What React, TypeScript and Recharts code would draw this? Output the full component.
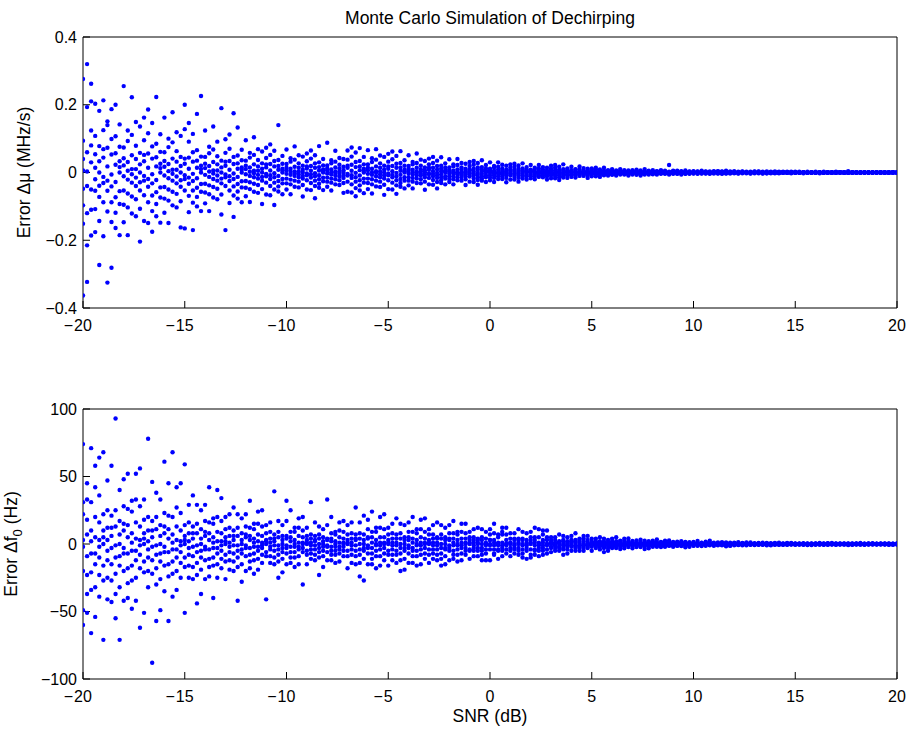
import { ScatterChart, Scatter, XAxis, YAxis } from "recharts";

// SNR grid of the Monte Carlo run (dB)
const snrDb = [
  -20, -19.8, -19.6, -19.4, -19.2, -19, -18.8, -18.6, -18.4, -18.2,
  -18, -17.8, -17.6, -17.4, -17.2, -17, -16.8, -16.6, -16.4, -16.2,
  -16, -15.8, -15.6, -15.4, -15.2, -15, -14.8, -14.6, -14.4, -14.2,
  -14, -13.8, -13.6, -13.4, -13.2, -13, -12.8, -12.6, -12.4, -12.2,
  -12, -11.8, -11.6, -11.4, -11.2, -11, -10.8, -10.6, -10.4, -10.2,
  -10, -9.8, -9.6, -9.4, -9.2, -9, -8.8, -8.6, -8.4, -8.2,
  -8, -7.8, -7.6, -7.4, -7.2, -7, -6.8, -6.6, -6.4, -6.2,
  -6, -5.8, -5.6, -5.4, -5.2, -5, -4.8, -4.6, -4.4, -4.2,
  -4, -3.8, -3.6, -3.4, -3.2, -3, -2.8, -2.6, -2.4, -2.2,
  -2, -1.8, -1.6, -1.4, -1.2, -1, -0.8, -0.6, -0.4, -0.2,
  0, 0.2, 0.4, 0.6, 0.8, 1, 1.2, 1.4, 1.6, 1.8,
  2, 2.2, 2.4, 2.6, 2.8, 3, 3.2, 3.4, 3.6, 3.8,
  4, 4.2, 4.4, 4.6, 4.8, 5, 5.2, 5.4, 5.6, 5.8,
  6, 6.2, 6.4, 6.6, 6.8, 7, 7.2, 7.4, 7.6, 7.8,
  8, 8.2, 8.4, 8.6, 8.8, 9, 9.2, 9.4, 9.6, 9.8,
  10, 10.2, 10.4, 10.6, 10.8, 11, 11.2, 11.4, 11.6, 11.8,
  12, 12.2, 12.4, 12.6, 12.8, 13, 13.2, 13.4, 13.6, 13.8,
  14, 14.2, 14.4, 14.6, 14.8, 15, 15.2, 15.4, 15.6, 15.8,
  16, 16.2, 16.4, 16.6, 16.8, 17, 17.2, 17.4, 17.6, 17.8,
  18, 18.2, 18.4, 18.6, 18.8, 19, 19.2, 19.4, 19.6, 19.8,
  20,
];

// chirp-rate error per trial, kHz/s (one row per SNR)
const muErrKHzPerS = [
  [276, 94, 40, 6, -48, -97, -151, -363], [320, 193, 60, 3, -40, -120, -215, -323],
  [262, 210, 124, 80, 30, -50, -186, -110], [108, 54, -20, -54, -108, -176, 203, 14],
  [182, 78, 0, -39, -143, -273, 33, -72], [125, 44, -13, -88, -188, 213, 69, -31],
  [73, 18, -54, -115, 140, 151, -24, -325], [187, 99, 53, -6, -41, -88, -146, -281],
  [107, 57, 23, -28, -73, -119, 200, -164], [142, 33, 0, -55, -93, -185, 76, 16],
  [255, 74, 21, -11, -53, -95, -147, 42], [124, 93, 31, -21, -62, -185, 5, -103],
  [222, 111, 51, 10, -30, -71, -121, -5], [79, 40, -15, -40, -79, -129, 149, 10],
  [136, 58, 0, -29, -107, -204, 24, -53], [95, 33, -10, -67, -143, 162, 52, -24],
  [56, 14, -42, -88, 186, 116, -19, -149], [146, 77, 41, -5, -32, -68, -114, -175],
  [85, 45, 18, -22, -58, -93, 223, -129], [113, 26, 0, -44, -74, -148, 61, 13],
  [162, 60, 17, -9, -43, -77, -119, 34], [100, 75, 25, -17, -50, -149, 4, -83],
  [178, 89, 41, 8, -24, -57, -97, -4], [63, 32, -12, -32, -63, -103, 119, 8],
  [108, 46, 0, -23, -85, -162, 19, -42], [200, 26, -8, -53, -165, 128, 41, -19],
  [44, 11, -33, -69, 146, 91, -15, -117], [114, 60, 32, -4, -25, -53, -89, -170],
  [66, 35, 14, -17, -45, -72, 173, -100], [226, 20, 0, -34, -57, -114, 47, 10],
  [124, 46, 13, -7, -33, -59, -91, 26], [76, 57, 19, -13, -38, -114, 3, -64],
  [136, 68, 31, 6, -19, -43, -74, -3], [48, 24, -9, -24, -48, -79, 91, 6],
  [190, 35, 0, -18, -65, -124, 15, -32], [58, 20, -6, -40, -170, 98, 32, -14],
  [34, 8, -25, -53, 112, 70, -11, -90], [175, 46, 25, -3, -19, -41, -68, -131],
  [50, 27, 11, -13, -34, -56, 133, -77], [67, 15, 0, -26, -44, -88, 36, 8],
  [95, 35, 10, -5, -25, -45, -70, 20], [58, 44, 15, -10, -29, -87, 2, -49],
  [104, 52, 24, 5, -14, -33, -57, -2], [37, 18, -7, -18, -37, -60, 69, 5],
  [62, 27, 0, -13, -49, -93, 11, -24], [43, 15, -4, -30, -65, 73, 24, -11],
  [25, 6, -19, -40, 83, 52, -8, -67], [64, 34, 18, -2, -14, -30, -50, -96],
  [37, 19, 8, -10, -25, -41, 140, -56], [49, 11, 0, -19, -32, -64, 26, 6],
  [68, 25, 7, -4, -18, -32, -50, 14], [42, 32, 11, -7, -21, -64, 2, -35],
  [77, 38, 17, 3, -10, -24, -42, -2], [27, 14, -5, -14, -27, -44, 51, 3],
  [47, 20, 0, -10, -37, -71, 8, -18], [33, 12, -3, -23, -50, 56, 18, -8],
  [19, 5, -15, -31, 65, 41, -6, -52], [51, 27, 14, -2, -11, -24, -40, -76],
  [30, 16, 6, -8, -20, -33, 78, -45], [40, 9, 0, -15, -26, -52, 21, 5],
  [88, 21, 6, -3, -15, -27, -42, 12], [36, 27, 9, -6, -18, -53, 1, -30],
  [64, 32, 15, 3, -9, -20, -35, -1], [23, 12, -4, -12, -23, -37, 43, 3],
  [40, 17, 0, -9, -31, -60, 7, -16], [38, 14, -4, -27, -57, 65, 20, -9],
  [23, 5, -16, -35, 74, 47, -8, -59], [59, 31, 16, -1, -14, -27, -46, -70],
  [34, 18, 7, -9, -23, -38, 72, -53], [46, 11, 0, -18, -30, -61, 24, 5],
  [66, 24, 7, -4, -18, -31, -49, 14], [42, 31, 11, -7, -20, -62, 1, -35],
  [69, 38, 18, 4, -11, -24, -41, -1], [27, 14, -5, -14, -27, -43, 50, 3],
  [46, 20, 0, -9, -36, -66, 8, -18], [32, 11, -3, -23, -49, 55, 18, -8],
  [19, 4, -14, -30, 62, 39, -7, -50], [49, 26, 14, -1, -11, -23, -38, -63],
  [28, 15, 5, -7, -19, -31, 63, -42], [36, 8, 0, -14, -24, -47, 20, 4],
  [51, 19, 5, -3, -14, -24, -38, 11], [31, 24, 8, -5, -16, -47, 1, -27],
  [56, 28, 14, 3, -8, -18, -31, -1], [20, 9, -4, -9, -20, -32, 38, 3],
  [34, 15, 0, -7, -27, -51, 7, -14], [24, 8, -3, -16, -35, 41, 14, -5],
  [14, 4, -11, -22, 46, 28, -4, -36], [35, 19, 9, -1, -8, -16, -28, -47],
  [20, 11, 4, -5, -14, -23, 45, -31], [27, 7, 0, -11, -18, -35, 15, 3],
  [39, 15, 4, -3, -11, -19, -28, 8], [24, 18, 5, -4, -12, -35, 1, -20],
  [40, 22, 9, 1, -5, -14, -23, -1], [15, 8, -3, -8, -15, -24, 28, 1],
  [26, 11, 0, -5, -20, -37, 4, -11], [19, 7, -1, -12, -27, 31, 9, -4],
  [11, 3, -8, -18, 34, 23, -4, -28], [28, 15, 8, -1, -7, -14, -22, -36],
  [16, 8, 4, -4, -11, -18, 36, -24], [22, 5, 0, -8, -14, -28, 12, 3],
  [30, 11, 3, -1, -8, -15, -23, 7], [19, 15, 5, -3, -9, -28, 1, -16],
  [30, 17, 8, 1, -4, -11, -19, -1], [12, 5, -3, -5, -12, -19, 23, 1],
  [20, 8, 0, -4, -16, -29, 4, -8], [15, 5, -1, -9, -21, 24, 8, -4],
  [8, 3, -7, -13, 26, 17, -3, -21], [21, 11, 5, 0, -4, -9, -16, -27],
  [12, 7, 3, -3, -8, -13, 27, -18], [16, 4, 0, -7, -11, -21, 9, 1],
  [22, 8, 3, -1, -7, -11, -17, 5], [14, 10, 4, -3, -7, -20, 0, -12],
  [22, 12, 5, 1, -4, -8, -13, 0], [9, 4, -1, -4, -9, -14, 16, 1],
  [14, 6, 0, -3, -12, -21, 3, -6], [12, 4, -1, -9, -17, 20, 6, -3],
  [7, 1, -6, -10, 22, 14, -3, -17], [17, 8, 4, 0, -4, -8, -14, -22],
  [10, 6, 1, -3, -7, -11, 24, -15], [12, 3, 0, -5, -8, -16, 7, 1],
  [17, 7, 1, -1, -5, -8, -13, 4], [10, 8, 3, -1, -5, -15, 0, -9],
  [18, 9, 4, 1, -3, -6, -10, 0], [6, 4, -1, -4, -6, -10, 13, 1],
  [11, 5, 0, -3, -9, -16, 3, -4], [8, 3, -1, -5, -11, 12, 4, -2],
  [4, 1, -4, -7, 14, 9, -1, -11], [9, 5, 3, 0, -2, -4, -7, -13],
  [5, 3, 1, -1, -4, -6, 14, -8], [7, 2, 0, -3, -4, -9, 4, 1],
  [10, 4, 1, -1, -3, -5, -7, 2], [6, 4, 1, -1, -3, -9, 0, -5],
  [10, 5, 2, 0, -1, -3, -6, 0], [4, 2, -1, -2, -4, -6, 7, 0],
  [6, 3, 0, -1, -5, -9, 1, -2], [4, 1, 0, -3, -6, 7, 2, -1],
  [2, 1, -2, -4, 8, 5, -1, -7], [6, 3, 2, 0, -1, -3, -5, -9],
  [4, 2, 1, -1, -2, -4, 10, -6], [5, 1, 0, -2, -3, -6, 3, 1],
  [7, 2, 1, 0, -2, -3, -5, 1], [4, 3, 1, -1, -2, -6, 0, -3],
  [7, 4, 2, 0, -1, -2, -4, 0], [2, 1, 0, -1, -2, -4, 5, 0],
  [22, 2, 0, -1, -3, -6, 1, -2], [3, 1, 0, -2, -4, 5, 2, -1],
  [2, 0, -1, -3, 5, 3, -1, -4], [4, 2, 1, 0, -1, -2, -3, -6],
  [2, 1, 0, -1, -2, -3, 6, -4], [3, 1, 0, -1, -2, -4, 2, 0],
  [4, 2, 0, 0, -1, -2, -3, 1], [3, 2, 1, 0, -1, -4, 0, -2],
  [5, 2, 1, 0, -1, -2, -3, 0], [2, 1, 0, -1, -2, -3, 3, 0],
  [3, 1, 0, -1, -2, -4, 1, -1], [2, 1, 0, -1, -3, 4, 1, 0],
  [1, 0, -1, -2, 4, 3, 0, -3], [3, 2, 1, 0, -1, -1, -2, -4],
  [2, 1, 0, 0, -1, -2, 5, -3], [3, 1, 0, -1, -1, -3, 1, 0],
  [4, 1, 0, 0, -1, -1, -2, 1], [2, 1, 0, 0, -1, -3, 0, -2],
  [3, 2, 1, 0, 0, -1, -2, 0], [1, 1, 0, 0, -1, -2, 2, 0],
  [2, 1, 0, 0, -2, -3, 0, -1], [2, 1, 0, -1, -2, 3, 1, 0],
  [1, 0, -1, -1, 3, 2, 0, -2], [2, 1, 1, 0, 0, -1, -2, -3],
  [1, 1, 0, 0, -1, -2, 3, -2], [2, 0, 0, -1, -1, -2, 1, 0],
  [3, 1, 0, 0, -1, -1, -2, 1], [2, 1, 0, 0, -1, -2, 0, -1],
  [2, 1, 1, 0, 0, -1, -1, 0], [1, 0, 0, 0, -1, -1, 2, 0],
  [2, 1, 0, 0, -1, -2, 0, -1], [1, 1, 0, -1, -1, 2, 0, 0],
  [1, 0, 0, -1, 2, 1, 0, -1], [1, 1, 0, 0, 0, -1, -1, -2],
  [1, 0, 0, 0, -1, -1, 2, -1], [1, 0, 0, -1, -1, -1, 1, 0],
  [2, 1, 0, 0, 0, -1, -1, 0], [1, 0, 0, 0, -1, -2, 0, -1],
  [2, 1, 0, 0, 0, -1, -1, 0], [1, 0, 0, 0, -1, -1, 1, 0],
  [1, 1, 0, 0, -1, -1, 0, -1], [1, 0, 0, -1, -1, 2, 0, 0],
  [1, 0, 0, 0, 1, 1, 0, -1], [1, 1, 0, 0, 0, -1, -1, -1],
  [4, 0, 0, 0, -1, -1, 1, -1], [1, 0, 0, -1, -1, 0, 1, 0],
  [1, 1, 0, 0, 0, -1, -1, 0], [1, 0, 0, 0, -1, -1, 0, -1],
  [1, 0, 0, 0, 0, -1, 1, 0], [0, 0, 0, 0, -1, -1, 1, 0],
  [1, 0, 0, 0, 0, -1, 0, -1], [1, 0, 0, -1, 0, 1, 0, 0],
  [0, 0, 0, -1, 1, 1, 0, -1], [1, 0, 0, 0, 0, -1, -1, 0],
  [0, 0, 0, 0, -1, 0, 1, -1], [1, 0, 0, -1, 0, 0, 1, 0],
  [1, 0, 0, 0, 0, -1, 0, -1],
];

// start-frequency error per trial, Hz (one row per SNR)
const f0ErrHz = [
  [74, 31, 22, 3, -2, -20, -49, -60], [33, 18, 7, -9, -23, -37, 45, -51],
  [71, 31, 10, -7, -21, -66, 2, -34], [20, 5, -15, -32, 58, 42, -7, -54],
  [64, 36, 16, 3, -10, -23, -39, -2], [68, 10, 0, -16, -27, -71, 22, 5],
  [25, 12, -5, -12, -25, -41, 47, 3], [58, 21, 6, -3, -15, -27, -43, 12],
  [93, 25, 13, -1, -10, -22, -37, -55], [40, 17, 0, -9, -32, -71, 7, -16],
  [28, 10, -3, -20, -42, 48, 15, -7], [26, 14, 5, -7, -18, -29, 52, -40],
  [32, 24, 8, -5, -16, -48, 1, -27], [16, 4, -12, -25, 52, 33, -5, -42],
  [56, 28, 13, 3, -8, -18, -62, -1], [33, 8, 0, -13, -21, -51, 18, 4],
  [20, 10, -4, -10, -20, -32, 78, 2], [46, 17, 5, -2, -12, -22, -88, 10],
  [38, 20, 11, -1, -8, -18, -30, -57], [33, 14, 0, -7, -26, -49, 6, -13],
  [23, 8, -2, -16, -35, 61, 13, -6], [21, 11, 4, -6, -15, -24, 45, -57],
  [68, 20, 7, -4, -13, -39, 1, -22], [13, 3, -10, -20, 42, 27, -4, -34],
  [45, 23, 10, 2, -6, -14, -25, -1], [59, 6, 0, -10, -17, -51, 14, 3],
  [16, 8, -3, -8, -16, -25, 29, 2], [36, 13, 4, -2, -9, -17, -26, 8],
  [29, 15, 8, -1, -6, -14, -23, -44], [25, 11, 0, -5, -19, -37, 4, -10],
  [17, 6, -2, -12, -26, 29, 9, -4], [16, 8, 3, -4, -11, -17, 42, -24],
  [19, 15, 5, -3, -10, -40, 1, -16], [9, 2, -7, -15, 40, 20, -3, -25],
  [34, 17, 8, 2, -5, -11, -18, -1], [20, 5, 0, -8, -13, -26, 11, 2],
  [12, 6, -2, -6, -12, -19, 22, 1], [27, 10, 3, -1, -7, -13, -20, 6],
  [22, 12, 6, -1, -5, -10, -17, -42], [19, 8, 0, -4, -15, -28, 3, -7],
  [13, 5, -1, -9, -20, 22, 7, -3], [12, 6, 3, -3, -8, -13, 32, -18],
  [15, 11, 4, -2, -7, -22, 1, -12], [7, 2, -5, -11, 24, 15, -2, -19],
  [25, 13, 6, 1, -3, -8, -14, -1], [14, 3, 0, -6, -9, -41, 8, 2],
  [9, 4, -2, -4, -9, -14, 16, 1], [39, 7, 2, -1, -5, -10, -15, 4],
  [17, 9, 5, -1, -4, -8, -13, -25], [14, 6, 0, -3, -11, -21, 3, -6],
  [32, 4, -1, -7, -15, 17, 6, -3], [9, 5, 2, -2, -6, -10, 25, -14],
  [12, 9, 3, -2, -6, -17, 0, -10], [6, 1, -4, -9, 19, 12, -2, -15],
  [20, 10, 5, 1, -3, -6, -30, 0], [12, 3, 0, -5, -8, -15, 6, 1],
  [7, 4, -1, -4, -7, -11, 31, 1], [16, 6, 2, -1, -4, -8, -12, 3],
  [13, 7, 4, 0, -3, -6, -10, -23], [11, 5, 0, -2, -9, -17, 2, -5],
  [33, 3, -1, -6, -12, 14, 4, -2], [8, 4, 2, -2, -5, -8, 20, -12],
  [9, 7, 2, -2, -5, -14, 0, -8], [5, 1, -4, -7, 16, 10, -2, -13],
  [17, 9, 4, 1, -2, -5, -9, 0], [14, 3, 0, -5, -9, -18, 7, 1],
  [8, 4, -1, -4, -8, -14, 16, 1], [27, 7, 3, -1, -5, -9, -15, 4],
  [16, 8, 4, 0, -4, -8, -14, -24], [21, 7, 0, -3, -11, -27, 3, -5],
  [11, 4, -1, -7, -15, 18, 5, -3], [9, 5, 1, -3, -7, -11, 24, -15],
  [12, 9, 3, -1, -5, -18, 0, -9], [5, 1, -4, -9, 20, 12, -1, -16],
  [22, 11, 5, 1, -3, -7, -12, 0], [12, 3, 0, -5, -8, -16, 7, 1],
  [8, 4, -1, -4, -8, -12, 15, 1], [19, 7, 1, -1, -5, -8, -14, 4],
  [15, 8, 4, 0, -3, -7, -12, -20], [14, 5, 0, -3, -11, -19, 3, -5],
  [9, 3, -1, -7, -14, 16, 5, -3], [9, 4, 1, -3, -5, -9, 20, -14],
  [11, 8, 3, -1, -5, -16, 0, -9], [5, 1, -4, -8, 18, 11, -1, -15],
  [19, 9, 4, 1, -3, -7, -11, 0], [11, 3, 0, -4, -8, -14, 7, 1],
  [7, 4, -1, -4, -7, -11, 14, 1], [16, 5, 1, -1, -4, -8, -12, 4],
  [14, 7, 4, 0, -3, -7, -11, -16], [12, 5, 0, -3, -9, -15, 3, -4],
  [8, 3, -1, -5, -12, 14, 4, -3], [8, 4, 1, -1, -5, -8, 17, -11],
  [9, 7, 3, -1, -4, -13, 0, -8], [4, 1, -3, -7, 15, 9, -1, -12],
  [15, 8, 4, 1, -3, -5, -8, 0], [9, 3, 0, -4, -5, -11, 5, 1],
  [5, 3, -1, -3, -5, -9, 11, 1], [12, 4, 1, 0, -3, -5, -9, 3],
  [11, 5, 3, 0, -3, -5, -8, -12], [9, 4, 0, -1, -7, -12, 1, -4],
  [7, 3, 0, -4, -12, 11, 3, -1], [8, 3, 1, -1, -4, -7, 15, -8],
  [7, 5, 1, -1, -4, -11, 0, -5], [9, 1, -3, -5, 12, 7, -1, -9],
  [12, 7, 3, 0, -1, -4, -7, 0], [8, 1, 0, -3, -5, -9, 4, 1],
  [4, 3, -1, -3, -4, -7, 8, 0], [11, 4, 1, 0, -3, -5, -8, 3],
  [9, 4, 3, 0, -1, -4, -7, -10], [8, 3, 0, -1, -5, -11, 1, -3],
  [5, 1, 0, -4, -8, 9, 3, -10], [5, 3, 1, -1, -4, -5, 12, -8],
  [11, 5, 1, -1, -3, -9, 0, -5], [3, 1, -3, -5, 10, 7, -1, -8],
  [10, 5, 3, 0, -1, -4, -7, 0], [5, 1, 0, -2, -3, -6, 3, 1],
  [3, 1, -1, -1, -3, -5, 5, 0], [7, 2, 1, 0, -2, -3, -5, 1],
  [6, 3, 2, 0, -1, -3, -4, -8], [5, 2, 0, -1, -4, -7, 1, -2],
  [3, 1, 0, -2, -5, 6, 2, -1], [3, 2, 1, -1, -2, -3, 8, -5],
  [4, 3, 1, -1, -2, -5, 0, -3], [2, 0, -1, -3, 6, 4, -1, -5],
  [6, 3, 1, 0, -1, -2, -3, 0], [4, 1, 0, -1, -2, -5, 2, 0],
  [2, 1, 0, -1, -2, -3, 4, 0], [5, 2, 0, 0, -1, -2, -4, 1],
  [4, 2, 1, 0, -1, -2, -3, -6], [3, 1, 0, -1, -3, -5, 1, -1],
  [2, 1, 0, -2, -3, 4, 1, -1], [2, 1, 0, -1, -1, -2, 5, -3],
  [2.4, 1.8, 0.6, -0.4, -1.2, -3.7, 0.1, -2], [1.2, 0.3, -0.9, -1.9, 3.9, 2.5, -0.4, -3.1],
  [4.1, 2.1, 0.9, 0.2, -0.6, -1.3, -2.3, -0.1], [2.3, 0.5, 0, -0.9, -1.5, -3.1, 1.3, 0.3],
  [1.4, 0.7, -0.3, -0.7, -1.4, -2.2, 2.6, 0.2], [3.1, 1.1, 0.3, -0.2, -0.8, -1.5, -2.3, 0.7],
  [2.5, 1.3, 0.7, -0.1, -0.5, -1.2, -2, -3.7], [2.1, 0.9, 0, -0.4, -1.6, -3.1, 0.4, -0.8],
  [1.4, 0.5, -0.1, -1, -2.1, 2.4, 0.8, -0.4], [1.3, 0.7, 0.3, -0.3, -0.9, -1.4, 3.4, -2],
  [1.6, 1.2, 0.4, -0.3, -0.8, -2.3, 0.1, -1.3], [0.8, 0.2, -0.6, -1.2, 2.5, 1.6, -0.3, -2],
  [2.6, 1.3, 0.6, 0.1, -0.4, -0.8, -1.4, -0.1], [1.5, 0.3, 0, -0.6, -1, -2, 0.8, 0.2],
  [0.9, 0.4, -0.2, -0.4, -0.9, -1.4, 1.7, 0.1], [2, 0.7, 0.2, -0.1, -0.5, -0.9, -1.5, 0.4],
  [1.6, 0.9, 0.5, -0.1, -0.4, -0.8, -1.3, -2.4], [1.3, 0.6, 0, -0.3, -1, -2, 0.2, -0.5],
  [0.9, 0.3, -0.1, -0.6, -1.4, 1.5, 0.5, -0.2], [0.8, 0.4, 0.2, -0.2, -0.6, -0.9, 2.2, -1.3],
  [1, 0.8, 0.3, -0.2, -0.5, -1.5, 0, -0.9], [0.5, 0.1, -0.4, -0.8, 1.7, 1, -0.2, -1.3],
  [2.5, 0.9, 0.4, 0.1, -0.2, -0.6, -1, 0], [1, 0.2, 0, -0.4, -0.7, -1.3, 0.5, 0.1],
  [0.6, 0.3, -0.1, -0.3, -0.6, -1, 1.1, 0.1], [1.4, 0.5, 0.1, -0.1, -0.4, -0.6, -1, 0.3],
  [1.1, 0.6, 0.3, 0, -0.2, -0.5, -0.9, -1.7], [0.9, 0.4, 0, -0.2, -0.7, -1.4, 0.2, -0.4],
  [0.6, 0.2, -0.1, -0.4, -0.9, 1, 0.3, -0.2], [0.5, 0.3, 0.1, -0.1, -0.3, -0.5, 1.4, -0.8],
  [0.7, 0.5, 0.2, -0.1, -0.3, -1, 0, -0.5], [0.3, 0.1, -0.2, -0.5, 1.1, 0.7, -0.1, -0.9],
  [1.2, 0.6, 0.3, 0, -0.2, -0.4, -0.6, 0], [0.6, 0.1, 0, -0.3, -0.4, -0.8, 0.3, 0.1],
  [0.4, 0.2, -0.1, -0.2, -0.4, -0.6, 0.7, 0], [0.9, 0.3, 0.1, 0, -0.2, -0.4, -0.6, 0.2],
  [0.7, 0.4, 0.2, 0, -0.2, -0.3, -0.5, -1], [0.6, 0.3, 0, -0.1, -0.5, -0.9, 0.1, -0.2],
  [0.4, 0.1, 0, -0.3, -0.6, 0.7, 0.2, -0.1], [0.3, 0.2, 0.1, -0.1, -0.2, -0.4, 0.9, -0.5],
  [0.4, 0.3, 0.1, -0.1, -0.2, -0.6, 0, -0.4], [0.2, 0.1, -0.2, -0.3, 0.7, 0.4, -0.1, -0.6],
  [0.8, 0.4, 0.2, 0, -0.1, -0.2, -0.4, 0], [0.5, 0.1, 0, -0.2, -0.3, -0.6, 0.2, 0.1],
  [0.3, 0.1, -0.1, -0.1, -0.3, -0.4, 0.5, 0], [0.6, 0.2, 0.1, 0, -0.2, -0.3, -0.5, 0.1],
  [0.5, 0.3, 0.1, 0, -0.1, -0.3, -0.4, -0.8], [0.4, 0.2, 0, -0.1, -0.3, -0.7, 0.1, -0.2],
  [0.3, 0.1, 0, -0.2, -0.5, 0.5, 0.2, -0.1], [0.3, 0.1, 0.1, -0.1, -0.2, -0.3, 0.8, -0.4],
  [0.4, 0.3, 0.1, -0.1, -0.2, -0.5, 0, -0.3], [0.2, 0, -0.1, -0.3, 0.6, 0.4, -0.1, -0.5],
  [0.7, 0.3, 0.2, 0, -0.1, -0.2, -0.4, 0], [0.4, 0.1, 0, -0.2, -0.3, -0.5, 0.2, 0],
  [0.2, 0.1, 0, -0.1, -0.2, -0.4, 0.4, 0], [0.5, 0.2, 0.1, 0, -0.1, -0.3, -0.4, 0.1],
  [0.4, 0.2, 0.1, 0, -0.1, -0.2, -0.3, -0.7], [0.4, 0.2, 0, -0.1, -0.3, -0.6, 0.1, -0.2],
  [0.3, 0.1, 0, -0.2, -0.4, 0.5, 0.2, -0.1], [0.2, 0.1, 0.1, -0.1, -0.2, -0.3, 0.7, -0.4],
  [0.3, 0.2, 0.1, -0.1, -0.2, -0.5, 0, -0.3], [0.2, 0, -0.1, -0.2, 0.5, 0.3, -0.1, -0.4],
  [0.6, 0.3, 0.1, 0, -0.1, -0.2, -0.3, 0], [0.3, 0.1, 0, -0.1, -0.2, -0.4, 0.2, 0],
  [0.2, 0.1, 0, -0.1, -0.2, -0.3, 0.4, 0], [0.5, 0.2, 0, 0, -0.1, -0.2, -0.4, 0.1],
  [0.4, 0.2, 0.1, 0, -0.1, -0.2, -0.3, -0.6], [0.3, 0.2, 0, -0.1, -0.3, -0.5, 0.1, -0.1],
  [0.3, 0.1, 0, -0.1, -0.4, 0.4, 0.1, 0],
];

const snrTicks = [-20, -15, -10, -5, 0, 5, 10, 15, 20];
const muTicks = [-0.4, -0.2, 0, 0.2, 0.4];
const f0Ticks = [-100, -50, 0, 50, 100];

// kHz/s -> MHz/s for the plot
const muPoints = snrDb.flatMap((snr, i) =>
  muErrKHzPerS[i].map((v) => ({ snr, err: v / 1000 }))
);
const f0Points = snrDb.flatMap((snr, i) => f0ErrHz[i].map((v) => ({ snr, err: v })));

const FONT = '"Liberation Sans", Arial, Helvetica, sans-serif';
const BLUE = "#0000ff";
const TICK_FS = 16;
const LABEL_FS = 17.5;

const minus = (v: number) => String(v).replace("-", "\u2212");

function Dot(props: any) {
  const { cx, cy } = props;
  if (cx == null || cy == null) return null;
  return <circle cx={cx} cy={cy} r={2.2} fill={BLUE} />;
}

// matlab centres the digits and lets the minus sign hang to the left
function SnrTick(props: any) {
  const { x, y, payload } = props;
  const v = payload.value as number;
  const digits = String(Math.abs(v));
  const half = digits.length * 0.278 * TICK_FS;
  return (
    <g>
      <text x={x} y={y} dy="0.71em" textAnchor="middle" fontSize={TICK_FS} fill="#000">
        {digits}
      </text>
      {v < 0 && (
        <text x={x - half - 1} y={y} dy="0.71em" textAnchor="end" fontSize={TICK_FS} fill="#000">
          {"\u2212"}
        </text>
      )}
    </g>
  );
}

function Title(props: any) {
  const vb = props.viewBox;
  return (
    <text x={vb.x + vb.width / 2} y={vb.y - 12.5} textAnchor="middle" fontSize={LABEL_FS} fill="#000">
      Monte Carlo Simulation of Dechirping
    </text>
  );
}

function SnrTitle(props: any) {
  const vb = props.viewBox;
  return (
    <text x={vb.x + vb.width / 2} y={vb.y + 43} textAnchor="middle" fontSize={LABEL_FS} fill="#000">
      SNR (dB)
    </text>
  );
}

function MuTitle(props: any) {
  const vb = props.viewBox;
  const x = vb.x + 29.5;
  const y = vb.y + vb.height / 2;
  return (
    <text x={x} y={y} transform={`rotate(-90 ${x} ${y})`} textAnchor="middle" fontSize={LABEL_FS} fill="#000">
      Error Δμ (MHz/s)
    </text>
  );
}

function F0Title(props: any) {
  const vb = props.viewBox;
  const x = vb.x + 16.5;
  const y = vb.y + vb.height / 2;
  return (
    <text x={x} y={y} transform={`rotate(-90 ${x} ${y})`} textAnchor="middle" fontSize={LABEL_FS} fill="#000">
      Error Δf<tspan dy={5} fontSize={13}>0</tspan>
      <tspan dy={-5}> (Hz)</tspan>
    </text>
  );
}

interface PanelProps {
  data: { snr: number; err: number }[];
  height: number;
  marginTop: number;
  axisHeight: number;
  yDomain: [number, number];
  yTicks: number[];
  yTitle: React.ReactElement;
  title?: React.ReactElement;
  xTitle?: React.ReactElement;
}

function Panel({ data, height, marginTop, axisHeight, yDomain, yTicks, yTitle, title, xTitle }: PanelProps) {
  return (
    <ScatterChart width={911} height={height} margin={{ top: marginTop, right: 0, bottom: 0, left: 0 }}>
      <XAxis
        xAxisId="b"
        dataKey="snr"
        type="number"
        domain={[-20, 20]}
        ticks={snrTicks}
        allowDataOverflow
        height={axisHeight}
        stroke="#000"
        tickSize={-7}
        tickMargin={19}
        tick={<SnrTick />}
        label={xTitle}
      />
      {/* top box edge, ticks only */}
      <XAxis
        xAxisId="t"
        orientation="top"
        dataKey="snr"
        type="number"
        domain={[-20, 20]}
        ticks={snrTicks}
        allowDataOverflow
        height={1}
        stroke="#000"
        tickSize={-7}
        tick={false}
        label={title}
      />
      <YAxis
        yAxisId="l"
        dataKey="err"
        type="number"
        domain={yDomain}
        ticks={yTicks}
        allowDataOverflow
        width={83}
        stroke="#000"
        tickSize={-7}
        tickMargin={13}
        tickFormatter={minus}
        tick={{ fill: "#000", fontSize: TICK_FS }}
        label={yTitle}
      />
      <YAxis
        yAxisId="r"
        orientation="right"
        dataKey="err"
        type="number"
        domain={yDomain}
        ticks={yTicks}
        allowDataOverflow
        width={14}
        stroke="#000"
        tickSize={-7}
        tick={false}
      />
      <Scatter data={data} xAxisId="b" yAxisId="l" shape={Dot} isAnimationActive={false} />
    </ScatterChart>
  );
}

export default function App() {
  return (
    <div
      style={{
        position: "absolute",
        left: 0,
        top: 0,
        width: 911,
        height: 730,
        background: "#fff",
        fontFamily: FONT,
      }}
    >
      <div style={{ position: "absolute", left: 0, top: 0 }}>
        <Panel
          data={muPoints}
          height={360}
          marginTop={36}
          axisHeight={52}
          yDomain={[-0.4, 0.4]}
          yTicks={muTicks}
          yTitle={<MuTitle />}
          title={<Title />}
        />
      </div>
      <div style={{ position: "absolute", left: 0, top: 360 }}>
        <Panel
          data={f0Points}
          height={370}
          marginTop={48}
          axisHeight={51}
          yDomain={[-100, 100]}
          yTicks={f0Ticks}
          yTitle={<F0Title />}
          xTitle={<SnrTitle />}
        />
      </div>
    </div>
  );
}
